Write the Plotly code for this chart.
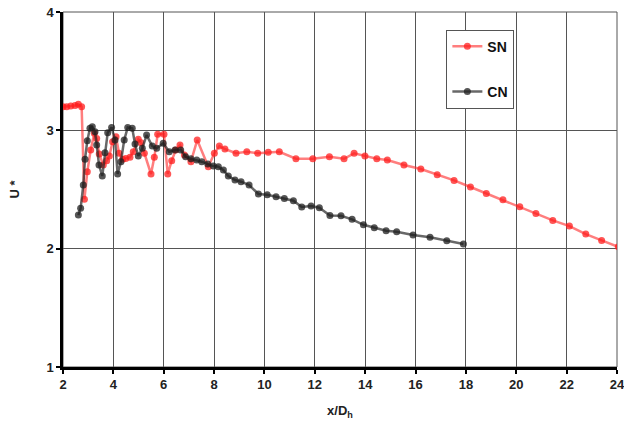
import plotly.graph_objects as go

# SN series
sn_x = [2.0, 2.15, 2.31, 2.48, 2.61, 2.74, 2.85, 2.965, 3.10, 3.243, 3.338, 3.44, 3.60,
        3.735, 3.84, 3.97, 4.105, 4.224, 4.37, 4.49, 4.66, 4.79, 4.99, 5.10, 5.23,
        5.495, 5.626, 5.76, 6.01, 6.16, 6.317, 6.476, 6.646, 6.82, 7.08, 7.33, 7.77,
        8.01, 8.21, 8.43, 8.87, 9.30, 9.73, 10.15, 10.59, 11.25, 11.92, 12.58, 13.16,
        13.56, 13.99, 14.46, 14.88, 15.54, 16.21, 16.86, 17.53, 18.18, 18.81, 19.47,
        20.14, 20.78, 21.45, 22.11, 22.76, 23.39, 24.05]
sn_y = [3.20, 3.20, 3.205, 3.21, 3.22, 3.20, 2.417, 2.650, 2.833, 2.975, 2.932, 2.80, 2.707,
        2.743, 2.783, 2.904, 2.946, 2.806, 2.755, 2.763, 2.772, 2.819, 2.924, 2.895, 2.806,
        2.631, 2.772, 2.966, 2.966, 2.631, 2.743, 2.833, 2.876, 2.791, 2.735, 2.918, 2.692,
        2.806, 2.867, 2.842, 2.806, 2.819, 2.806, 2.814, 2.819, 2.760, 2.760, 2.777, 2.760,
        2.806, 2.783, 2.760, 2.749, 2.707, 2.673, 2.625, 2.577, 2.521, 2.467, 2.413,
        2.354, 2.298, 2.239, 2.191, 2.123, 2.070, 2.015]

# CN series
cn_x = [2.61, 2.70, 2.806, 2.874, 2.965, 3.07, 3.164, 3.27, 3.338, 3.43, 3.56, 3.668, 3.775,
        3.93, 4.065, 4.17, 4.30, 4.43, 4.57, 4.75, 4.86, 4.99, 5.15, 5.32, 5.545, 5.72,
        5.98, 6.22, 6.45, 6.674, 6.87, 7.08, 7.31, 7.51, 7.75, 7.97, 8.17, 8.37, 8.565,
        8.83, 9.07, 9.39, 9.76, 10.11, 10.46, 10.79, 11.15, 11.48, 11.85, 12.18, 12.60,
        13.04, 13.48, 13.93, 14.36, 14.83, 15.25, 15.90, 16.575, 17.24, 17.90]
cn_y = [2.284, 2.341, 2.538, 2.755, 2.912, 3.017, 3.030, 2.988, 2.876, 2.707, 2.614, 2.811,
        2.980, 3.025, 2.918, 2.631, 2.735, 2.918, 3.025, 3.017, 2.884, 2.783, 2.848, 2.960,
        2.867, 2.848, 2.890, 2.819, 2.833, 2.833, 2.777, 2.760, 2.749, 2.735, 2.715, 2.698,
        2.692, 2.664, 2.614, 2.580, 2.566, 2.538, 2.462, 2.456, 2.439, 2.425, 2.405, 2.352,
        2.360, 2.346, 2.281, 2.278, 2.248, 2.202, 2.177, 2.151, 2.143, 2.115, 2.096, 2.067,
        2.039]

x_ticks = [2, 4, 6, 8, 10, 12, 14, 16, 18, 20, 22, 24]
y_ticks = [1, 2, 3, 4]

fig = go.Figure()
fig.add_trace(go.Scatter(
    x=sn_x, y=sn_y, mode="lines+markers", name="<b>SN</b>", legendgroup="a",
    line=dict(color="rgba(255,40,40,0.6)", width=2.5),
    marker=dict(color="rgba(255,30,30,0.75)", size=7),
))
fig.add_trace(go.Scatter(
    x=cn_x, y=cn_y, mode="lines+markers", name="<b>CN</b>", legendgroup="b",
    line=dict(color="rgba(40,40,40,0.7)", width=2.5),
    marker=dict(color="rgba(30,30,30,0.75)", size=7),
))

font = dict(family="Liberation Sans, Arial, sans-serif", size=12, color="#222")

# figure is a little wider than the window so that the "24" label is drawn and cropped
fig.update_layout(
    width=632, height=426,
    margin=dict(l=63, r=15, t=12, b=59),
    paper_bgcolor="white", plot_bgcolor="white",
    font=font,
    showlegend=True,
    legend=dict(
        x=0.692, y=0.95, xanchor="left", yanchor="top",
        bordercolor="#555", borderwidth=1, bgcolor="white",
        traceorder="grouped", tracegroupgap=24,
        entrywidth=50, entrywidthmode="pixels",
        font=dict(family="Liberation Sans, Arial, sans-serif", size=14, color="#111"),
    ),
    shapes=[dict(type="rect", xref="paper", yref="paper", x0=0, x1=1, y0=0, y1=1,
                 line=dict(color="#555", width=1), layer="below")],
)
fig.update_xaxes(
    range=[2, 24], tickvals=x_ticks, ticktext=[f"<b>{v}</b>" for v in x_ticks],
    showgrid=True, gridcolor="#555", gridwidth=1,
    showline=True, linecolor="black", linewidth=2.5,
    ticks="outside", ticklen=4, tickcolor="black", tickwidth=2,
    tickfont=dict(size=13),
    title=dict(text="<b>x/D<sub>h</sub></b>", standoff=15, font=dict(size=13)),
    zeroline=False, automargin=False,
)
fig.update_yaxes(
    range=[1, 4], tickvals=y_ticks, ticktext=[f"<b>{v}</b>" for v in y_ticks],
    showgrid=True, gridcolor="#555", gridwidth=1,
    showline=True, linecolor="black", linewidth=2.5,
    ticks="outside", ticklen=4, tickcolor="black", tickwidth=2,
    tickfont=dict(size=13),
    title=dict(text="<b>U *</b>", standoff=24, font=dict(size=13)),
    zeroline=False, automargin=False,
)

fig.write_html("out.html", config={"displayModeBar": False},
               post_script="document.body.style.margin='0px';")
